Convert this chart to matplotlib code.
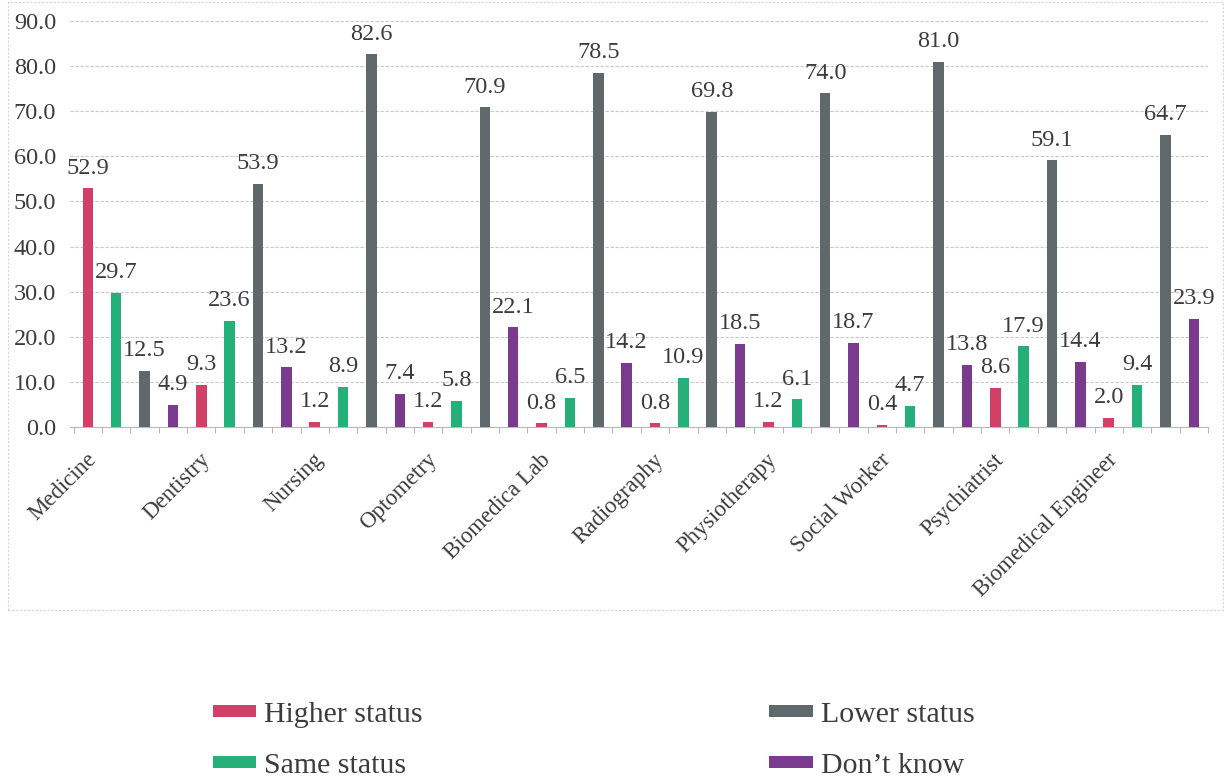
import numpy as np
import matplotlib
matplotlib.use("Agg")
import matplotlib.pyplot as plt
from matplotlib.patches import Rectangle

categories = ["Medicine", "Dentistry", "Nursing", "Optometry", "Biomedica Lab",
              "Radiography", "Physiotherapy", "Social Worker", "Psychiatrist",
              "Biomedical Engineer"]
higher = [52.9, 9.3, 1.2, 1.2, 0.8, 0.8, 1.2, 0.4, 8.6, 2.0]
same = [29.7, 23.6, 8.9, 5.8, 6.5, 10.9, 6.1, 4.7, 17.9, 9.4]
lower = [12.5, 53.9, 82.6, 70.9, 78.5, 69.8, 74.0, 81.0, 59.1, 64.7]
dont_know = [4.9, 13.2, 7.4, 22.1, 14.2, 18.5, 18.7, 13.8, 14.4, 23.9]

series = [("Higher status", higher, "#d23f67"),
          ("Same status", same, "#25b07a"),
          ("Lower status", lower, "#5f686b"),
          ("Don\u2019t know", dont_know, "#7a3b8e")]

plt.rcParams["font.family"] = ["Liberation Serif", "DejaVu Serif"]
text_col = "#3c3c3c"

fig = plt.figure(figsize=(12.24, 7.82), dpi=100)
ax = fig.add_axes([0.0572, 0.454, 0.9297, 0.519])

n = len(categories)
idx = np.arange(n)
for j, (name, vals, col) in enumerate(series):
    x = idx * 4 + j
    bars = ax.bar(x, vals, width=0.37, color=col, label=name, zorder=3)
    ax.bar_label(bars, labels=[f"{v:.1f}" for v in vals], padding=7,
                 fontsize=17.5, color=text_col, zorder=4)

ax.set_xlim(-0.63, 4 * n - 0.58)
ax.set_ylim(0, 90)
ax.set_yticks(np.arange(0, 91, 10))
ax.set_yticklabels([f"{v:.1f}" for v in np.arange(0, 91, 10)])
ax.tick_params(axis="y", length=0, pad=10, labelsize=17.5, labelcolor=text_col)

ax.set_xticks(idx * 4 + 0.45)
ax.set_xticklabels(categories, rotation=45, ha="right", va="top",
                   fontsize=16.5, color=text_col)
ax.tick_params(axis="x", which="major", length=0, pad=16)
ax.set_xticks(np.arange(-0.5, 4 * n, 1), minor=True)
ax.tick_params(axis="x", which="minor", length=4, color="#b8b8b8", width=0.8)

ax.grid(axis="y", color="#c8c8c8", linestyle=(0, (3, 1.5)), linewidth=0.8, zorder=0)
for s in ["top", "right", "left"]:
    ax.spines[s].set_visible(False)
ax.spines["bottom"].set_color("#b8b8b8")
ax.spines["bottom"].set_linewidth(0.8)

# faint outer frame of the chart area
fig.patches.append(Rectangle((8 / 1224, 1 - 610 / 782), 1 - 9 / 1224, 610 / 782 - 0.002,
                             transform=fig.transFigure, fill=False,
                             edgecolor="#d4d4d4", linewidth=0.8,
                             linestyle=(0, (2, 1.5))))

leg = fig.legend(loc="center", bbox_to_anchor=(0.485, 0.053), ncol=2,
                 frameon=False, fontsize=21.5, handlelength=1.45, handleheight=0.25,
                 handletextpad=0.27, columnspacing=11.6, labelspacing=0.83)
for t in leg.get_texts():
    t.set_color(text_col)

fig.savefig("out.png", dpi=100)
